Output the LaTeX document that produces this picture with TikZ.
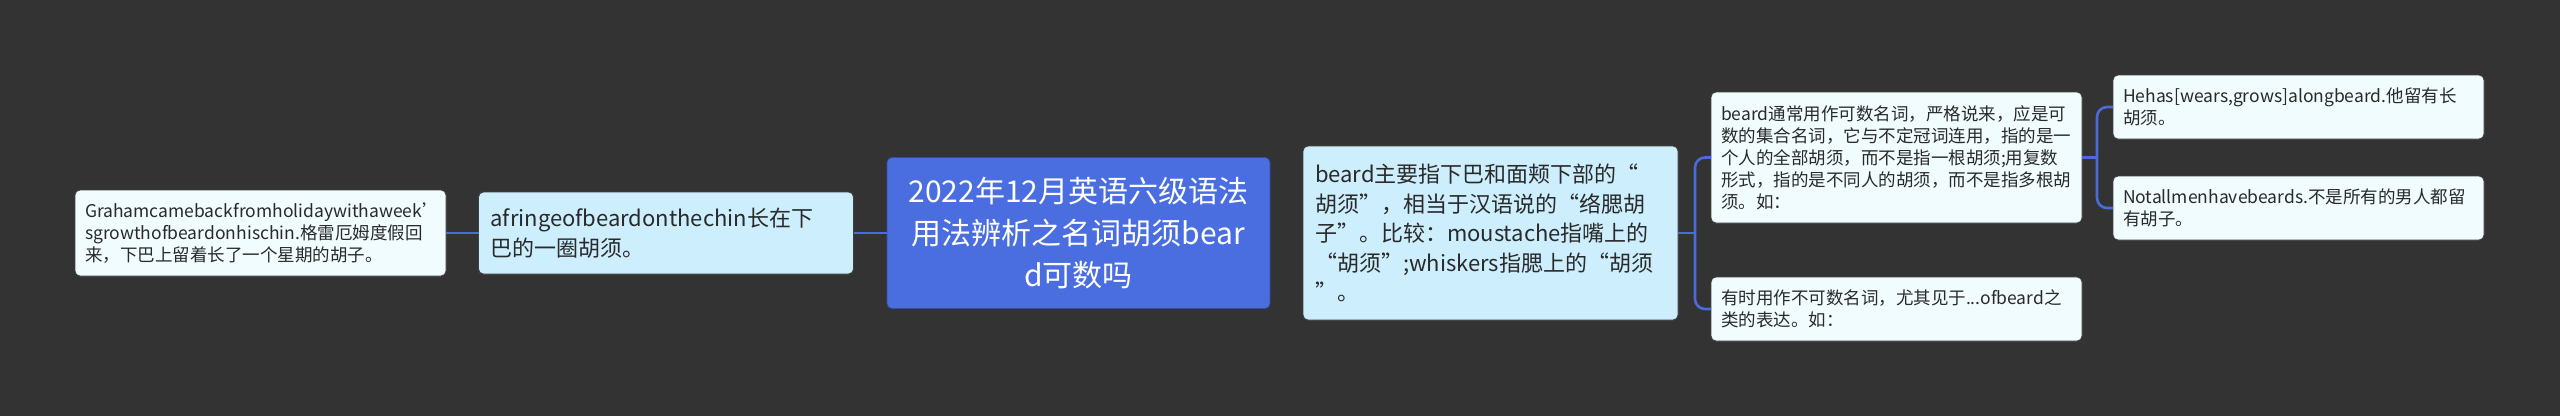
\documentclass[tikz,border=0pt]{standalone}
\usepackage{fontspec}
\setmainfont{Noto Sans CJK SC}
\newcommand{\fwlq}{\makebox[1em][r]{“}}
\newcommand{\fwrq}{\makebox[1em][l]{”}}
\definecolor{bg}{HTML}{343333}
\definecolor{linec}{HTML}{4B6BD8}
\definecolor{rootc}{HTML}{4A6EE0}
\definecolor{midc}{HTML}{CCEEFD}
\definecolor{leafc}{HTML}{F0FCFE}
\definecolor{txt}{HTML}{2A2A2A}
\begin{document}
\begin{tikzpicture}[x=1pt,y=-1pt,
  box/.style={rounded corners=5pt, draw=black!75, line width=0.8pt, outer sep=0pt,
    align=left, inner ysep=0pt, text=txt},
  leaf/.style={box, fill=leafc, inner xsep=10pt, minimum width=371pt, text width=351pt,
    font=\fontsize{17.5}{22}\selectfont},
  mid/.style={box, fill=midc, inner xsep=12pt, minimum width=375pt, text width=351pt,
    font=\fontsize{22}{29.5}\selectfont},
  rootbox/.style={box, fill=rootc, draw=rootc!70!black, text=white, align=center,
    inner xsep=10pt, minimum width=383pt, minimum height=151pt, text width=363pt,
    font=\fontsize{30}{42}\selectfont},
  conn/.style={draw=linec, line width=2.6pt}
]
\fill[bg] (0,0) rectangle (2560,416);
\useasboundingbox (0,0) rectangle (2560,416);

\node[rootbox] (root) at (1078.5,233) {2022年12月英语六级语法\\用法辨析之名词胡须bear\\d可数吗};

\node[mid, minimum height=82pt] (fringe) at (666,233)
  {afringeofbeardonthechin长在下\\巴的一圈胡须。};
\node[leaf, minimum height=86pt] (graham) at (260.5,233)
  {Grahamcamebackfromholidaywithaweek'\\sgrowthofbeardonhischin.格雷厄姆度假回\\来，下巴上留着长了一个星期的胡子。};

\node[mid, minimum height=174pt] (mainb) at (1490.5,233)
  {beard主要指下巴和面颊下部的\fwlq\\胡须\fwrq，相当于汉语说的\fwlq 络腮胡\\子\fwrq。比较：moustache指嘴上的\\\fwlq 胡须\fwrq;whiskers指腮上的\fwlq 胡须\\\fwrq。};

\node[leaf, minimum height=131pt] (usual) at (1896.5,157.5)
  {beard通常用作可数名词，严格说来，应是可\\数的集合名词，它与不定冠词连用，指的是一\\个人的全部胡须，而不是指一根胡须;用复数\\形式，指的是不同人的胡须，而不是指多根胡\\须。如：};
\node[leaf, minimum height=64pt] (sometimes) at (1896.5,309)
  {有时用作不可数名词，尤其见于...ofbeard之\\类的表达。如：};

\node[leaf, minimum height=64pt] (hehas) at (2298.5,107)
  {Hehas[wears,grows]alongbeard.他留有长\\胡须。};
\node[leaf, minimum height=64pt] (notall) at (2298.5,208)
  {Notallmenhavebeards.不是所有的男人都留\\有胡子。};

\draw[conn] (root.west) -- (fringe.east);
\draw[conn] (fringe.west) -- (graham.east);

\coordinate (j1) at (1695,233);
\draw[conn] (mainb.east) -- (j1);
\draw[conn, rounded corners=10pt] (j1) |- (usual.west);
\draw[conn, rounded corners=10pt] (j1) |- (sometimes.west);

\coordinate (j2) at (2097,157.5);
\draw[conn] (usual.east) -- (j2);
\draw[conn, rounded corners=10pt] (j2) |- (hehas.west);
\draw[conn, rounded corners=10pt] (j2) |- (notall.west);
\end{tikzpicture}
\end{document}
